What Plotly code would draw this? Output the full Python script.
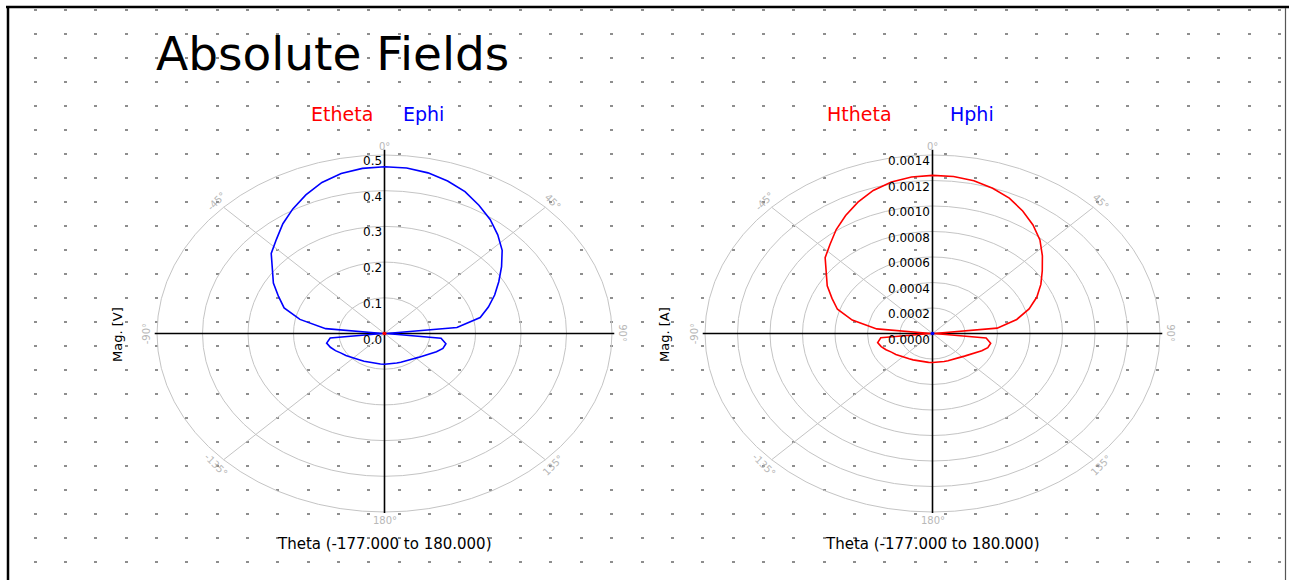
import numpy as np
import plotly.graph_objects as go

# ---------------- data ----------------
theta_deg = [-174, -168, -162, -156, -150, -144, -138, -132, -126, -120,
             -114, -108, -102, -96, -90, -84, -78, -72, -66, -60,
             -54, -48, -42, -36, -30, -24, -18, -12, -6, 0,
             6, 12, 18, 24, 30, 36, 42, 48, 54, 60,
             66, 72, 78, 84, 90, 96, 102, 108, 114, 120,
             126, 132, 138, 144, 150, 156, 162, 168, 174, 180]

e_phi = [0.086, 0.086, 0.087, 0.088, 0.090, 0.092, 0.095, 0.100, 0.105, 0.110,
         0.118, 0.125, 0.130, 0.120, 0.004, 0.130, 0.190, 0.232, 0.255, 0.282,
         0.305, 0.335, 0.355, 0.380, 0.403, 0.425, 0.445, 0.458, 0.465, 0.467,
         0.466, 0.460, 0.449, 0.435, 0.415, 0.395, 0.372, 0.348, 0.318, 0.290,
         0.265, 0.240, 0.215, 0.160, 0.004, 0.125, 0.138, 0.135, 0.125, 0.115,
         0.106, 0.100, 0.095, 0.092, 0.090, 0.088, 0.087, 0.086, 0.086, 0.086]

e_theta = [0.003, 0.003, 0.003, 0.003, 0.003, 0.003, 0.003, 0.003, 0.003, 0.003,
           0.003, 0.003, 0.003, 0.003, 0.003, 0.003, 0.003, 0.003, 0.003, 0.003,
           0.003, 0.003, 0.003, 0.003, 0.003, 0.003, 0.003, 0.003, 0.003, 0.003,
           0.003, 0.003, 0.003, 0.003, 0.003, 0.003, 0.003, 0.003, 0.003, 0.003,
           0.003, 0.003, 0.003, 0.003, 0.003, 0.003, 0.003, 0.003, 0.003, 0.003,
           0.003, 0.003, 0.003, 0.003, 0.003, 0.003, 0.003, 0.003, 0.003, 0.003]

h_theta = [0.000228, 0.000228, 0.000231, 0.000234, 0.000239, 0.000245, 0.000252, 0.000265, 0.000279, 0.000292,
           0.000313, 0.000332, 0.000345, 0.000320, 0.000010, 0.000345, 0.000505, 0.000615, 0.000677, 0.000748,
           0.000810, 0.000889, 0.000942, 0.001008, 0.001069, 0.001128, 0.001180, 0.001215, 0.001234, 0.001240,
           0.001238, 0.001225, 0.001198, 0.001162, 0.001110, 0.001052, 0.000988, 0.000910, 0.000835, 0.000770,
           0.000703, 0.000625, 0.000530, 0.000400, 0.000010, 0.000332, 0.000366, 0.000358, 0.000332, 0.000305,
           0.000281, 0.000265, 0.000252, 0.000244, 0.000239, 0.000234, 0.000231, 0.000229, 0.000228, 0.000228]

h_phi = [0.000008, 0.000008, 0.000008, 0.000008, 0.000008, 0.000008, 0.000008, 0.000008, 0.000008, 0.000008,
         0.000008, 0.000008, 0.000008, 0.000008, 0.000008, 0.000008, 0.000008, 0.000008, 0.000008, 0.000008,
         0.000008, 0.000008, 0.000008, 0.000008, 0.000008, 0.000008, 0.000008, 0.000008, 0.000008, 0.000008,
         0.000008, 0.000008, 0.000008, 0.000008, 0.000008, 0.000008, 0.000008, 0.000008, 0.000008, 0.000008,
         0.000008, 0.000008, 0.000008, 0.000008, 0.000008, 0.000008, 0.000008, 0.000008, 0.000008, 0.000008,
         0.000008, 0.000008, 0.000008, 0.000008, 0.000008, 0.000008, 0.000008, 0.000008, 0.000008, 0.000008]

e_ring_ticks = [0.0, 0.1, 0.2, 0.3, 0.4, 0.5]
e_ring_labels = ["0.0", "0.1", "0.2", "0.3", "0.4", "0.5"]
h_ring_ticks = [0.0, 0.0002, 0.0004, 0.0006, 0.0008, 0.0010, 0.0012, 0.0014]
h_ring_labels = ["0.0000", "0.0002", "0.0004", "0.0006", "0.0008", "0.0010", "0.0012", "0.0014"]
angle_ticks = [0, 45, 90, 135, 180, -135, -90, -45]
angle_labels = ["0°", "45°", "90°", "135°", "180°", "-135°", "-90°", "-45°"]

title_text = "Absolute Fields"
x_title = "Theta (-177.000 to 180.000)"

# ---------------- layout helpers ----------------
W, H = 1289, 580
FONT = "DejaVu Sans"


def px(x):
    return x / W


def py(y):
    return 1 - y / H


fig = go.Figure()

# background dotted grid (subplot x/y)
fig.add_trace(go.Scatter(x=[0], y=[0], mode="markers", marker=dict(size=0.1, opacity=0),
                         showlegend=False, hoverinfo="skip", xaxis="x", yaxis="y"))

layout_axes = dict(
    xaxis=dict(domain=[px(33.5), 1], range=[0, 1], visible=True, showgrid=False, zeroline=False,
               showticklabels=False, ticks="", showline=False, fixedrange=True),
    yaxis=dict(domain=[0, 1], range=[H, 0], showgrid=True, gridcolor="#8e8e8e", gridwidth=1.5,
               griddash="3px,27.35px", tick0=10, dtick=24, zeroline=False, showticklabels=False,
               ticks="", showline=False, fixedrange=True),
)

shapes = []
annotations = []

plots = [
    dict(idx=2, cx=384.5, cy=333.5, rx=227.5, ry=178.5, ticks=e_ring_ticks, labels=e_ring_labels,
         series=[(e_phi, "#0000ff"), (e_theta, "#ff0000")], ytitle="Mag. [V]", ytx=117,
         leg=[("Etheta", "#ff0000", 342), ("Ephi", "#0000ff", 423.5)]),
    dict(idx=3, cx=932.5, cy=333.5, rx=227.5, ry=178.5, ticks=h_ring_ticks, labels=h_ring_labels,
         series=[(h_theta, "#ff0000"), (h_phi, "#0000ff")], ytitle="Mag. [A]", ytx=664,
         leg=[("Htheta", "#ff0000", 859.5), ("Hphi", "#0000ff", 971.5)]),
]

th = np.deg2rad(np.array(theta_deg, dtype=float))

for p in plots:
    i = p["idx"]
    xa, ya = f"x{i}", f"y{i}"
    rmax = max(p["ticks"])
    span = rmax * 1.16
    hx = span / rmax * p["rx"]
    hy = span / rmax * p["ry"]
    layout_axes[f"xaxis{i}"] = dict(domain=[px(p["cx"] - hx), px(p["cx"] + hx)], range=[-span, span],
                                    visible=False, fixedrange=True, anchor=ya)
    layout_axes[f"yaxis{i}"] = dict(domain=[py(p["cy"] + hy), py(p["cy"] - hy)], range=[-span, span],
                                    visible=False, fixedrange=True, anchor=xa)
    # rings
    for r in p["ticks"]:
        if r > 0:
            shapes.append(dict(type="circle", xref=xa, yref=ya, x0=-r, x1=r, y0=-r, y1=r,
                               line=dict(color="#c4c4c4", width=1), layer="below"))
    # diagonal spokes
    for a in angle_ticks:
        if a % 90 != 0:
            ar = np.deg2rad(a)
            shapes.append(dict(type="line", xref=xa, yref=ya, x0=0, y0=0,
                               x1=rmax * np.sin(ar), y1=rmax * np.cos(ar),
                               line=dict(color="#c4c4c4", width=1), layer="below"))
    # black main axes
    shapes.append(dict(type="line", xref=xa, yref=ya, x0=-rmax * 1.01, x1=rmax * 1.01, y0=0, y1=0,
                       line=dict(color="#000000", width=1.6), layer="below"))
    shapes.append(dict(type="line", xref=xa, yref=ya, x0=0, x1=0, y0=-rmax * 1.005, y1=rmax * 1.03,
                       line=dict(color="#000000", width=1.6), layer="below"))
    # angle labels
    for a, lab in zip(angle_ticks, angle_labels):
        ar = np.deg2rad(a)
        if -90 <= a <= 90:
            ang = a
        elif a > 90:
            ang = a - 180
        else:
            ang = a + 180
        annotations.append(dict(xref=xa, yref=ya, x=rmax * 1.045 * np.sin(ar), y=rmax * 1.045 * np.cos(ar),
                                text=lab, showarrow=False, textangle=ang,
                                font=dict(family=FONT, size=10, color="#b8b8b8"),
                                xanchor="center", yanchor="middle"))
    # radial labels
    for r, lab in zip(p["ticks"], p["labels"]):
        annotations.append(dict(xref=xa, yref=ya, x=0, y=r, text=lab, showarrow=False,
                                xanchor="right", yanchor="top", xshift=-1, yshift=3,
                                font=dict(family=FONT, size=12, color="#000000")))
    # series
    for vals, col in p["series"]:
        r = np.array(vals, dtype=float)
        xs = np.append(r * np.sin(th), r[0] * np.sin(th[0]))
        ys = np.append(r * np.cos(th), r[0] * np.cos(th[0]))
        fig.add_trace(go.Scatter(x=xs, y=ys, mode="lines", line=dict(color=col, width=1.6),
                                 xaxis=xa, yaxis=ya, showlegend=False, hoverinfo="skip"))
    # axis titles
    annotations.append(dict(xref="paper", yref="paper", x=px(p["ytx"]), y=py(335), text=p["ytitle"],
                            textangle=-90, showarrow=False, xanchor="center", yanchor="middle",
                            font=dict(family=FONT, size=13, color="#000000")))
    annotations.append(dict(xref="paper", yref="paper", x=px(p["cx"]), y=py(544), text=x_title,
                            showarrow=False, xanchor="center", yanchor="middle",
                            font=dict(family=FONT, size=15, color="#000000")))
    for txt, col, xc in p["leg"]:
        annotations.append(dict(xref="paper", yref="paper", x=px(xc), y=py(114), text=txt,
                                showarrow=False, xanchor="center", yanchor="middle",
                                font=dict(family=FONT, size=19, color=col)))

# title
annotations.append(dict(xref="paper", yref="paper", x=px(154), y=py(53), text=title_text,
                        showarrow=False, xanchor="left", yanchor="middle",
                        font=dict(family=FONT, size=47, color="#000000")))

# frame
shapes.append(dict(type="line", xref="paper", yref="paper", x0=px(6), x1=1, y0=py(7), y1=py(7),
                   line=dict(color="#000000", width=2.5)))
shapes.append(dict(type="line", xref="paper", yref="paper", x0=px(8), x1=px(8), y0=0, y1=py(6),
                   line=dict(color="#000000", width=2.5)))
shapes.append(dict(type="line", xref="paper", yref="paper", x0=px(1285.5), x1=px(1285.5), y0=0, y1=py(8),
                   line=dict(color="#555555", width=1.2)))

fig.update_layout(
    width=W, height=H, margin=dict(l=0, r=0, t=0, b=0, pad=0),
    paper_bgcolor="#ffffff", plot_bgcolor="rgba(0,0,0,0)",
    showlegend=False, shapes=shapes, annotations=annotations,
    **layout_axes,
)

fig.write_html("out.html", config={"displayModeBar": False},
               post_script="document.body.style.margin='0px';document.body.style.overflow='hidden';")
